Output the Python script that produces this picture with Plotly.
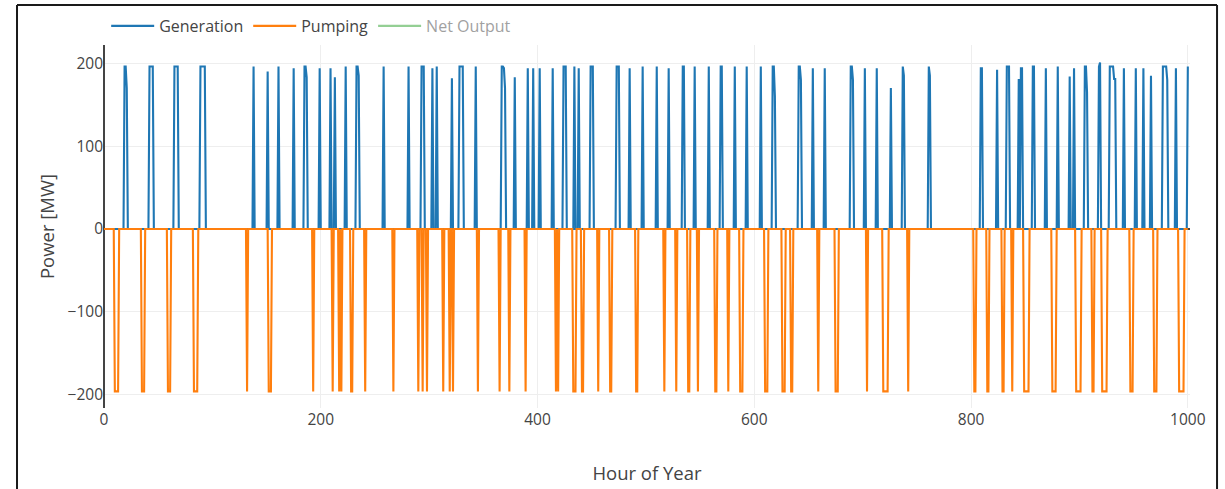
import plotly.graph_objects as go

# ---- data ----
hours = list(range(0, 1001))

# hours with non-zero generation and their values [MW]
gen_hours = [19, 20, 21, 42, 43, 44, 45, 65, 66, 67, 68, 89, 90, 91, 92, 93, 138, 151, 161, 175,
             185, 186, 187, 199, 209, 213, 223, 233, 234, 235, 258, 281, 293, 294, 295, 303, 307,
             321, 328, 329, 330, 331, 343, 367, 368, 369, 370, 379, 391, 396, 402, 414,
             424, 425, 426, 434, 438, 449, 450, 451, 473, 474, 475, 485, 497, 510, 521, 534, 535,
             545, 558, 569, 570, 582, 593, 606, 617, 618, 619, 641, 642, 643, 654, 665,
             689, 690, 691, 702, 713, 726, 737, 738, 761, 762, 809, 810, 824, 833, 834,
             835, 844, 846, 847, 857, 858, 869, 880, 891, 895, 905, 906, 907, 918,
             919, 928, 929, 930, 931, 932, 933, 941, 952, 959, 966, 977, 978, 979, 980, 981,
             989, 1000]
gen_values = [196, 196, 170, 196, 196, 196, 196, 196, 196, 196, 196, 196, 196, 196, 196, 196, 196, 190, 196, 194,
              196, 196, 183, 194, 194, 183, 196, 196, 196, 185, 196, 196, 196, 196, 196, 194, 196,
              182, 196, 196, 196, 196, 196, 196, 196, 194, 170, 183, 194, 194, 194, 194,
              196, 196, 196, 196, 194, 196, 196, 196, 196, 196, 196, 194, 196, 196, 194, 196, 196,
              196, 196, 196, 196, 196, 196, 196, 196, 196, 160, 196, 196, 180, 194, 194,
              196, 196, 180, 194, 194, 170, 196, 185, 196, 185, 194, 194, 192, 196, 196,
              196, 181, 194, 194, 196, 196, 194, 196, 184, 194, 196, 196, 165, 196,
              201, 196, 196, 196, 196, 181, 181, 194, 194, 194, 185, 196, 196, 196, 196, 180,
              194, 196]

# hours with pumping (all at the same level)
pump_hours = [10, 11, 12, 13, 35, 36, 37, 59, 60, 61, 83, 84, 85, 86, 132, 152, 153, 154,
              193, 211, 217, 219, 228, 229, 241, 267, 290, 294, 298, 313, 319, 322,
              345, 365, 374, 389, 417, 419, 433, 434, 435, 441, 442, 456, 467, 468,
              491, 492, 517, 528, 539, 540, 548, 564, 565, 576, 587, 588, 589,
              610, 611, 612, 626, 627, 628, 634, 635, 659, 675, 676, 677, 704,
              719, 720, 721, 722, 723, 742, 803, 804, 815, 816, 829, 830, 838, 849, 850, 851, 852,
              853, 875, 876, 877, 878, 897, 898, 899, 900, 901, 912, 913, 921, 922, 923,
              924, 925, 947, 948, 949, 969, 970, 971, 992, 993, 994, 995, 996]
pump_level = -196

x_ticks = [0, 200, 400, 600, 800, 1000]
y_ticks = [-200, -100, 0, 100, 200]

# ---- build hourly series ----
gen_map = dict(zip(gen_hours, gen_values))
generation = [gen_map.get(h, 0) for h in hours]
pump_set = set(pump_hours)
pumping = [pump_level if h in pump_set else 0 for h in hours]
net_output = [g + p for g, p in zip(generation, pumping)]

FONT = "Open Sans"

fig = go.Figure()
fig.add_trace(go.Scatter(x=hours, y=generation, mode="lines", name="Generation",
                         line=dict(color="#1f77b4", width=2.1)))
fig.add_trace(go.Scatter(x=hours, y=pumping, mode="lines", name="Pumping",
                         line=dict(color="#ff7f0e", width=2.1)))
fig.add_trace(go.Scatter(x=hours, y=net_output, mode="lines", name="Net Output",
                         line=dict(color="#2ca02c", width=2.1), visible="legendonly"))

# screenshot frame
frame = dict(color="#1a1a1a", width=2)
fig.add_shape(type="line", xref="paper", yref="paper", x0=-0.0801, x1=-0.0801, y0=-0.3, y1=1.11, line=frame)
fig.add_shape(type="line", xref="paper", yref="paper", x0=-0.0801, x1=1.0249, y0=1.11, y1=1.11, line=frame)
fig.add_shape(type="line", xref="paper", yref="paper", x0=1.0249, x1=1.0249, y0=-0.3, y1=1.11, line=frame)

fig.update_layout(
    template="none",
    width=1225, height=489,
    margin=dict(l=104, r=35, t=45, b=81, autoexpand=False),
    paper_bgcolor="white", plot_bgcolor="white",
    font=dict(family=FONT, color="#444", size=16),
    showlegend=True,
    legend=dict(orientation="h", x=0.002, xanchor="left", y=1.0055, yanchor="bottom",
                font=dict(size=16, family=FONT, color="#444"), itemwidth=43,
                bgcolor="rgba(0,0,0,0)"),
    xaxis=dict(range=[0, 1002], tickvals=x_ticks, showgrid=True, gridcolor="#eee",
               gridwidth=1.3, zeroline=True, zerolinecolor="#444", zerolinewidth=1.5,
               showline=False, ticks="", tickfont=dict(size=15.5, color="#444"),
               title=dict(text="Hour of Year", font=dict(size=18.5, color="#444"), standoff=38),
               automargin=False),
    yaxis=dict(range=[-216, 222], tickvals=y_ticks, showgrid=True, gridcolor="#eee",
               gridwidth=1.3, zeroline=True, zerolinecolor="#444", zerolinewidth=1.5,
               showline=False, ticks="", tickfont=dict(size=15.5, color="#444"),
               title=dict(text="Power [MW]", font=dict(size=18.5, color="#444"), standoff=8),
               automargin=False),
)

fig.write_html("out.html", config={"displayModeBar": False},
               post_script="document.body.style.margin='0';document.body.style.overflow='hidden';")
